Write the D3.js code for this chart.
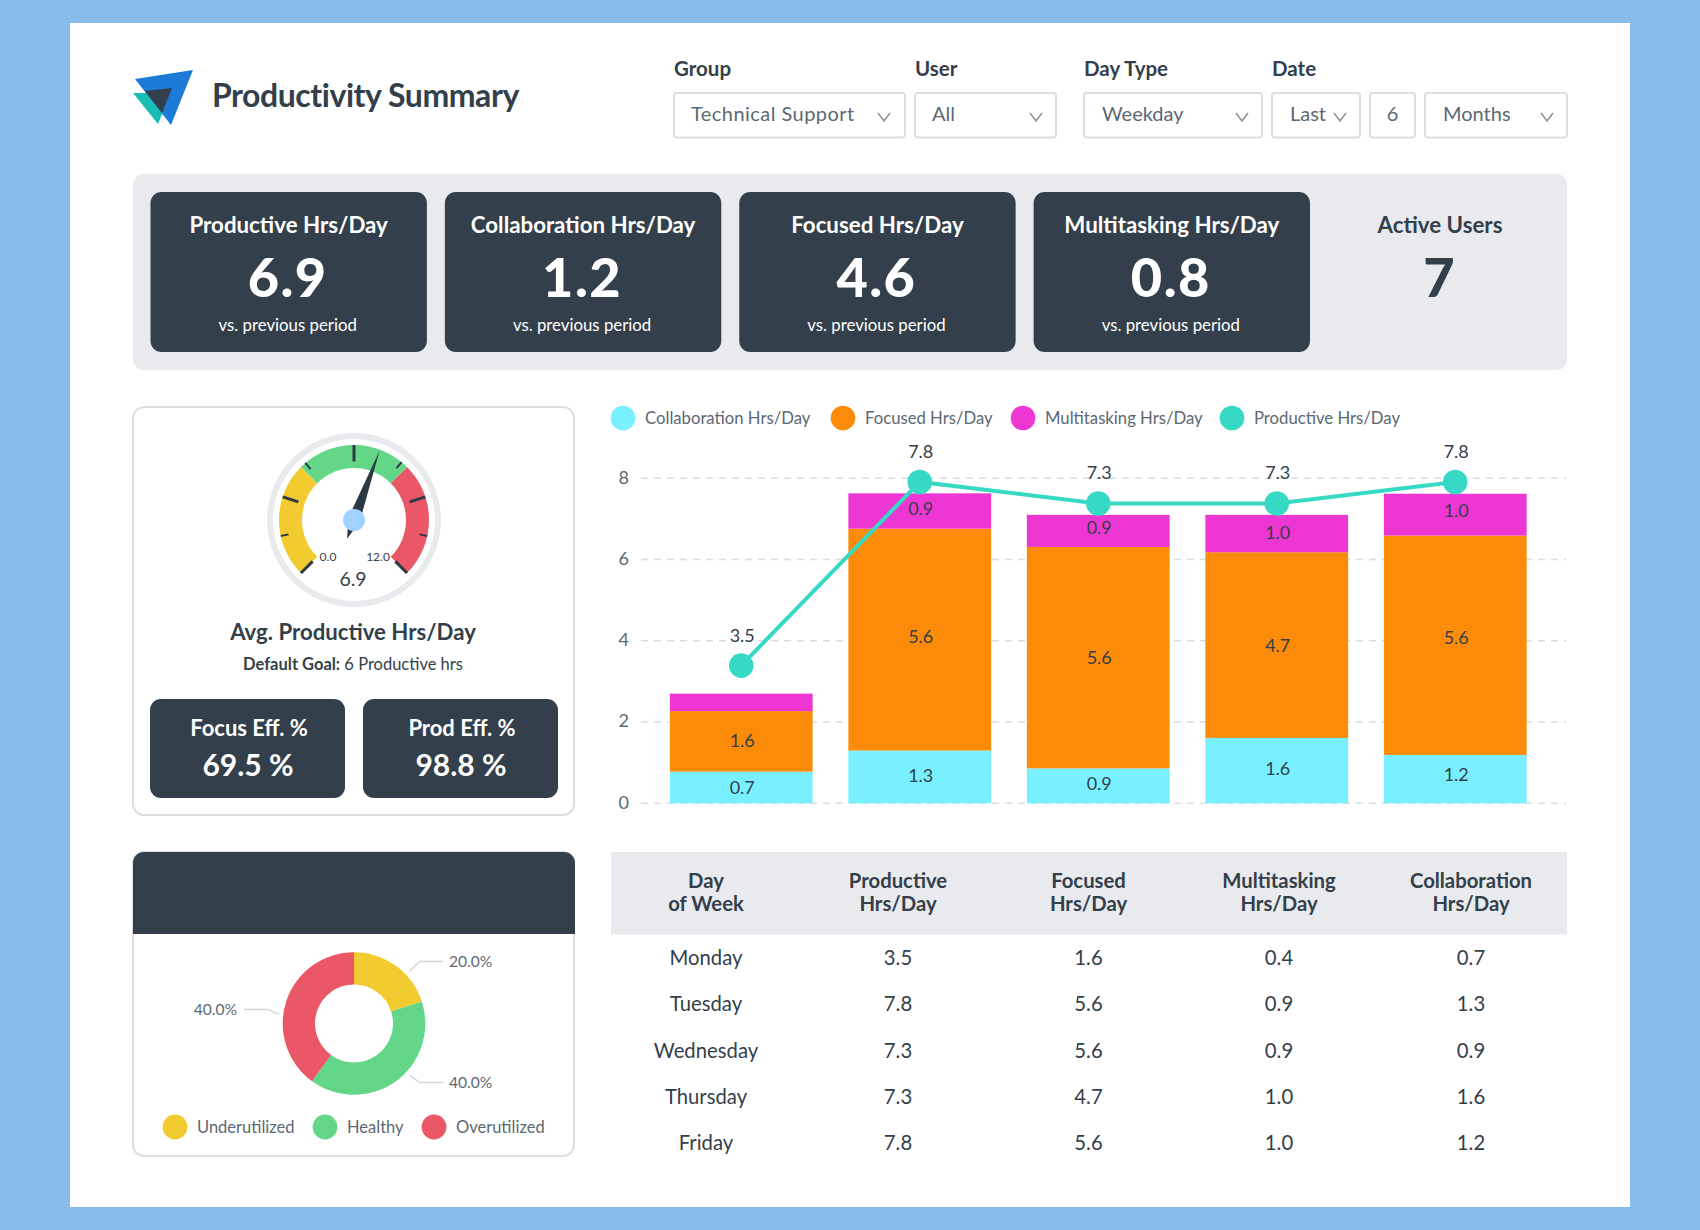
<!DOCTYPE html>
<html>
<head>
<meta charset="utf-8">
<script src="https://cdn.jsdelivr.net/npm/d3@7"></script>
<style>
  html, body { margin: 0; padding: 0; background: #89bbea; }
  svg { display: block; }
  text { font-family: Lato, "Open Sans", sans-serif; }
</style>
</head>
<body>
<div class="viz"></div>
<script>
//////////////////////////
// Data
//////////////////////////

const days = ['Monday', 'Tuesday', 'Wednesday', 'Thursday', 'Friday'];

// printed values (table + labels)
const productiveHrs = [3.5, 7.8, 7.3, 7.3, 7.8];
const focusedHrs = [1.6, 5.6, 5.6, 4.7, 5.6];
const multitaskingHrs = [0.4, 0.9, 0.9, 1.0, 1.0];
const collaborationHrs = [0.7, 1.3, 0.9, 1.6, 1.2];

// drawn heights (they differ a bit from the printed labels)
const collabBar = [0.78, 1.30, 0.86, 1.61, 1.19];
const focusBar = [1.49, 5.46, 5.45, 4.57, 5.40];
const multiBar = [0.43, 0.87, 0.79, 0.92, 1.03];
const productivePoint = [3.39, 7.91, 7.38, 7.38, 7.91];

const yTicks = [0, 2, 4, 6, 8];

const chartLegend = ['Collaboration Hrs/Day', 'Focused Hrs/Day', 'Multitasking Hrs/Day', 'Productive Hrs/Day'];

const kpiTitles = ['Productive Hrs/Day', 'Collaboration Hrs/Day', 'Focused Hrs/Day', 'Multitasking Hrs/Day'];
const kpiValues = ['6.9', '1.2', '4.6', '0.8'];

const effTitles = ['Focus Eff. %', 'Prod Eff. %'];
const effValues = ['69.5 %', '98.8 %'];

const gaugeValue = 6.9;
const gaugeMin = 0;
const gaugeMax = 12;
const gaugeBands = [0, 4, 8, 12];
const gaugeMajorTicks = [0, 2.8, 6, 9.2, 12];
const gaugeMinorTicks = [1.45, 4.2, 7.75, 10.55];

const donutNames = ['Underutilized', 'Healthy', 'Overutilized'];
const donutShares = [20, 40, 40];

const tableHead = [['Day', 'of Week'], ['Productive', 'Hrs/Day'], ['Focused', 'Hrs/Day'], ['Multitasking', 'Hrs/Day'], ['Collaboration', 'Hrs/Day']];

//////////////////////////
// Styles
//////////////////////////

const DARK = '#333f4a';
const PANEL = '#e8eaee';
const BORDER = '#dcdee3';
const MUTED = '#5c6873';
const YELLOW = '#f2cb30';
const GREEN = '#63d687';
const RED = '#ea5767';
const CYAN = '#79f0ff';
const ORANGE = '#fd8b0a';
const MAGENTA = '#ee36d2';
const TEAL = '#36d9c4';

var svg = d3.select('div.viz')
    .append('svg')
    .attr('width', 1700)
    .attr('height', 1230);

svg.append('rect').attr('width', 1700).attr('height', 1230).attr('fill', '#89bbea');
svg.append('rect').attr('x', 70).attr('y', 23).attr('width', 1560).attr('height', 1184).attr('fill', '#fff');

function label(g, x, y, str, size, opts) {
    opts = opts || {};
    return g.append('text')
        .attr('x', x)
        .attr('y', y)
        .attr('font-size', size)
        .attr('font-weight', opts.weight || 400)
        .attr('fill', opts.fill || DARK)
        .attr('text-anchor', opts.anchor || 'start')
        .attr('letter-spacing', opts.spacing || null)
        .text(str);
}

//////////////////////////
// Header: logo, title, filters
//////////////////////////

var logo = svg.append('g').attr('class', 'logo');
logo.append('path').attr('d', 'M133,93 L158,124 L171,93 Z').attr('fill', '#1abdb3');
logo.append('path').attr('d', 'M135,79 L193,70 L171,125 Z').attr('fill', '#1b7bd6');
logo.append('path').attr('d', 'M145,91 L172,88 L162,113 Z').attr('fill', DARK);

label(svg, 212, 107, 'Productivity Summary', 32, { weight: 700, spacing: -0.45 });

const filterLabels = [['Group', 674], ['User', 915], ['Day Type', 1084], ['Date', 1272]];
filterLabels.forEach(function(d) {
    label(svg, d[1], 76, d[0], 20.5, { weight: 700 });
});

const filterBoxes = [
    { x0: 674, x1: 905, text: 'Technical Support', tx: 691, chevron: 884, spacing: 0.45 },
    { x0: 915, x1: 1056, text: 'All', tx: 932, chevron: 1036 },
    { x0: 1084, x1: 1262, text: 'Weekday', tx: 1102, chevron: 1242 },
    { x0: 1272, x1: 1360, text: 'Last', tx: 1290, chevron: 1340 },
    { x0: 1370, x1: 1415, text: '6', tx: 1392.5, anchor: 'middle' },
    { x0: 1425, x1: 1567, text: 'Months', tx: 1443, chevron: 1547 },
];
filterBoxes.forEach(function(d) {
    svg.append('rect')
        .attr('x', d.x0).attr('y', 93)
        .attr('width', d.x1 - d.x0).attr('height', 44.5)
        .attr('rx', 3)
        .attr('fill', '#fff').attr('stroke', BORDER).attr('stroke-width', 2);
    label(svg, d.tx, 121, d.text, 20, { fill: MUTED, anchor: d.anchor, spacing: d.spacing });
    if (d.chevron) {
        svg.append('path')
            .attr('d', 'M' + (d.chevron - 6) + ',113 L' + d.chevron + ',121 L' + (d.chevron + 6) + ',113')
            .attr('fill', 'none').attr('stroke', '#8a929a').attr('stroke-width', 1.5);
    }
});

//////////////////////////
// KPI strip
//////////////////////////

svg.append('rect').attr('x', 133).attr('y', 174).attr('width', 1434).attr('height', 196).attr('rx', 10).attr('fill', PANEL);

var kpiX = d3.scaleBand()
    .domain(kpiTitles)
    .range([150.5, 1310])
    .paddingInner(18 / 294.5);

var kpi = svg.selectAll('g.kpi')
    .data(kpiTitles)
    .enter()
    .append('g')
    .attr('class', 'kpi')
    .attr('transform', (d) => 'translate(' + kpiX(d) + ',192)');

kpi.append('rect').attr('width', kpiX.bandwidth()).attr('height', 160).attr('rx', 11).attr('fill', DARK);
kpi.append('text').attr('x', kpiX.bandwidth() / 2).attr('y', 41).attr('text-anchor', 'middle')
    .attr('font-size', 22.3).attr('font-weight', 700).attr('fill', '#fff').text((d) => d);
kpi.append('text').attr('x', kpiX.bandwidth() / 2 - 1).attr('y', 104.5).attr('text-anchor', 'middle')
    .attr('font-size', 54).attr('font-weight', 900).attr('letter-spacing', 1.5).attr('fill', '#fff').text((d, i) => kpiValues[i]);
kpi.append('text').attr('x', kpiX.bandwidth() / 2 - 1).attr('y', 139).attr('text-anchor', 'middle')
    .attr('font-size', 16.8).attr('fill', '#fff').text('vs. previous period');

label(svg, 1440, 233, 'Active Users', 22.3, { weight: 700, anchor: 'middle' });
label(svg, 1439, 296.5, '7', 54, { weight: 900, anchor: 'middle' });

//////////////////////////
// Gauge card
//////////////////////////

svg.append('rect').attr('x', 133).attr('y', 407).attr('width', 441).attr('height', 408).attr('rx', 11)
    .attr('fill', '#fff').attr('stroke', BORDER).attr('stroke-width', 2);

var gauge = svg.append('g').attr('transform', 'translate(354,520)');

// ticks are spaced unevenly in the picture, the bands are not
var gaugeAngle = d3.scaleLinear().domain([gaugeMin, gaugeMax]).range([-135, 135]);
var toRad = (deg) => deg * Math.PI / 180;

gauge.append('circle').attr('r', 84).attr('fill', 'none').attr('stroke', PANEL).attr('stroke-width', 6);

var gaugeArc = d3.arc().innerRadius(52).outerRadius(75);
[YELLOW, GREEN, RED].forEach(function(color, i) {
    gauge.append('path')
        .attr('d', gaugeArc({
            startAngle: toRad(gaugeAngle(gaugeBands[i])),
            endAngle: toRad(gaugeAngle(gaugeBands[i + 1])),
        }))
        .attr('fill', color);
});

function gaugeTicks(values, inner, width) {
    gauge.selectAll(null)
        .data(values)
        .enter()
        .append('line')
        .attr('y1', -75)
        .attr('y2', -inner)
        .attr('transform', (d) => 'rotate(' + gaugeAngle(d) + ')')
        .attr('stroke', '#2d3a45')
        .attr('stroke-width', width);
}
gaugeTicks(gaugeMajorTicks, 58.5, 3);
gaugeTicks(gaugeMinorTicks, 67, 2);

gauge.append('path')
    .attr('d', 'M0,-74 L6,0 L0,20 L-6,0 Z')
    .attr('transform', 'rotate(' + gaugeAngle(gaugeValue) + ')')
    .attr('fill', '#2d3a45');
gauge.append('circle').attr('r', 11).attr('fill', '#a2d2ff');

label(svg, 328, 561, d3.format('.1f')(gaugeMin), 12, { anchor: 'middle' });
label(svg, 378, 561, d3.format('.1f')(gaugeMax), 12, { anchor: 'middle' });
label(svg, 353, 586, d3.format('.1f')(gaugeValue), 19.5, { anchor: 'middle' });

label(svg, 353, 640, 'Avg. Productive Hrs/Day', 22.2, { weight: 700, anchor: 'middle' });
var goal = label(svg, 353, 670, '', 16.5, { anchor: 'middle' });
goal.append('tspan').attr('font-weight', 700).text('Default Goal:');
goal.append('tspan').text(' 6 Productive hrs');

effTitles.forEach(function(t, i) {
    var x = i === 0 ? 150 : 363;
    svg.append('rect').attr('x', x).attr('y', 699).attr('width', 195).attr('height', 99).attr('rx', 11).attr('fill', DARK);
    label(svg, x + 99, 736, t, 22, { weight: 700, fill: '#fff', anchor: 'middle' });
    label(svg, x + 98, 776, effValues[i], 30, { weight: 700, fill: '#fff', anchor: 'middle' });
});

//////////////////////////
// Stacked bars + line
//////////////////////////

const chartLeft = 641;
const chartRight = 1566;

var xScale = d3.scaleBand()
    .domain(days)
    .range([652, 1544.5])
    .paddingInner(0.2)
    .paddingOuter(0.1);

var yScale = d3.scaleLinear()
    .domain([0, 8])
    .range([803.3, 478.3]);

var yAxis = svg.append('g')
    .attr('class', 'y-axis')
    .attr('transform', 'translate(629,-1)')
    .call(d3.axisLeft(yScale).tickValues(yTicks).tickSize(0).tickPadding(0));
yAxis.select('.domain').remove();
yAxis.selectAll('text').attr('font-size', 18).attr('fill', MUTED).attr('font-family', 'Lato');

svg.append('g').attr('class', 'grid')
    .selectAll('line')
    .data(yTicks)
    .enter()
    .append('line')
    .attr('x1', chartLeft).attr('x2', chartRight)
    .attr('y1', (d) => yScale(d)).attr('y2', (d) => yScale(d))
    .attr('stroke', '#dadde3').attr('stroke-width', 1.5).attr('stroke-dasharray', '7 6');

const stackRows = days.map((d, i) => ({ day: d, collab: collabBar[i], focus: focusBar[i], multi: multiBar[i] }));
const stackKeys = ['collab', 'focus', 'multi'];
const stackColors = { collab: CYAN, focus: ORANGE, multi: MAGENTA };
const stackLabels = { collab: collaborationHrs, focus: focusedHrs, multi: multitaskingHrs };
// labels do not sit exactly mid segment in the picture (px, per day)
const labelNudge = {
    collab: [7, 5, 4, 4, 2],
    focus: [6, 3, 6, 7, -1],
    multi: [0, 4, 3, 5, 2],
};

var layers = svg.selectAll('g.layer')
    .data(d3.stack().keys(stackKeys)(stackRows))
    .enter()
    .append('g')
    .attr('class', 'layer');

layers.selectAll('rect')
    .data((d) => d)
    .enter()
    .append('rect')
    .attr('x', (d) => xScale(d.data.day))
    .attr('width', xScale.bandwidth())
    .attr('y', (d) => yScale(d[1]))
    .attr('height', (d) => yScale(d[0]) - yScale(d[1]))
    .attr('fill', function() { return stackColors[d3.select(this.parentNode).datum().key]; });

// the thin Monday multitasking segment has no label in the picture
layers.each(function(layer) {
    d3.select(this).selectAll('text')
        .data(layer.filter((d) => d[1] - d[0] >= 0.5))
        .enter()
        .append('text')
        .attr('x', (d) => xScale(d.data.day) + xScale.bandwidth() / 2 + 1)
        .attr('y', (d) => yScale((d[0] + d[1]) / 2) + labelNudge[layer.key][days.indexOf(d.data.day)])
        .attr('text-anchor', 'middle')
        .attr('font-size', 18)
        .attr('fill', DARK)
        .text((d) => d3.format('.1f')(stackLabels[layer.key][days.indexOf(d.data.day)]));
});

var xCenter = (d) => xScale(d) + xScale.bandwidth() / 2;

svg.append('path')
    .attr('d', d3.line().x((d, i) => xCenter(days[i])).y((d) => yScale(d))(productivePoint))
    .attr('fill', 'none')
    .attr('stroke', TEAL)
    .attr('stroke-width', 4);

svg.selectAll('circle.point')
    .data(productivePoint)
    .enter()
    .append('circle')
    .attr('class', 'point')
    .attr('cx', (d, i) => xCenter(days[i]))
    .attr('cy', (d) => yScale(d))
    .attr('r', 12.3)
    .attr('fill', TEAL);

svg.selectAll('text.point-label')
    .data(productivePoint)
    .enter()
    .append('text')
    .attr('class', 'point-label')
    .attr('x', (d, i) => xCenter(days[i]) + 1)
    .attr('y', (d) => yScale(d) - 24)
    .attr('text-anchor', 'middle')
    .attr('font-size', 18)
    .attr('fill', DARK)
    .text((d, i) => d3.format('.1f')(productiveHrs[i]));

const chartLegendX = [623, 843, 1023, 1232];
[CYAN, ORANGE, MAGENTA, TEAL].forEach(function(color, i) {
    svg.append('circle').attr('cx', chartLegendX[i]).attr('cy', 418).attr('r', 12.3).attr('fill', color);
    label(svg, chartLegendX[i] + 22, 424, chartLegend[i], 16.7, { fill: MUTED });
});

//////////////////////////
// Donut card
//////////////////////////

svg.append('rect').attr('x', 133).attr('y', 852).attr('width', 441).attr('height', 304).attr('rx', 11)
    .attr('fill', '#fff').attr('stroke', BORDER).attr('stroke-width', 2);
svg.append('path')
    .attr('d', 'M133,934 V863 a11,11 0 0 1 11,-11 H564 a11,11 0 0 1 11,11 V934 Z')
    .attr('fill', DARK);

var donut = svg.append('g').attr('transform', 'translate(354,1023.5)');
var donutColors = [YELLOW, GREEN, RED];
var pieData = d3.pie().sort(null)(donutShares);
var donutArc = d3.arc().innerRadius(39).outerRadius(71.3);

donut.selectAll('path')
    .data(pieData)
    .enter()
    .append('path')
    .attr('d', donutArc)
    .attr('fill', (d, i) => donutColors[i]);

// leader lines: where they leave the ring and the height of their label
const leaderAngle = [46.6, 133, 277];
const leaderY = [-62, 59, -14];
pieData.forEach(function(d, i) {
    var a = toRad(leaderAngle[i]);
    var sx = 76 * Math.sin(a);
    var sy = -76 * Math.cos(a);
    var side = sx > 0 ? 1 : -1;
    var ex = side > 0 ? 66 : -(76 + 10);
    donut.append('path')
        .attr('d', 'M' + sx + ',' + sy + ' L' + ex + ',' + leaderY[i] + ' L' + (side > 0 ? 89 : -110) + ',' + leaderY[i])
        .attr('fill', 'none').attr('stroke', '#d3d6db').attr('stroke-width', 1.5);
    label(donut, side > 0 ? 95 : -117, leaderY[i] + 5.5, d3.format('.1f')(donutShares[i]) + '%', 15.6, {
        fill: MUTED,
        anchor: side > 0 ? 'start' : 'end',
    });
});

const donutLegendX = [175, 325, 434];
donutNames.forEach(function(name, i) {
    svg.append('circle').attr('cx', donutLegendX[i]).attr('cy', 1127).attr('r', 12.4).attr('fill', donutColors[i]);
    label(svg, donutLegendX[i] + 22, 1133, name, 16.5, { fill: MUTED });
});

//////////////////////////
// Table
//////////////////////////

svg.append('rect').attr('x', 611).attr('y', 852).attr('width', 956).attr('height', 82.5).attr('fill', PANEL);

const columnX = [706, 898, 1088.5, 1279, 1471];
const rowY = [964.5, 1011, 1058, 1104, 1150];

tableHead.forEach(function(lines, c) {
    label(svg, columnX[c], 888, lines[0], 20.3, { weight: 700, anchor: 'middle' });
    label(svg, columnX[c], 911, lines[1], 20.3, { weight: 700, anchor: 'middle' });
});

days.forEach(function(day, r) {
    const cells = [day, productiveHrs[r], focusedHrs[r], multitaskingHrs[r], collaborationHrs[r]];
    cells.forEach(function(v, c) {
        label(svg, columnX[c], rowY[r], c === 0 ? v : d3.format('.1f')(v), 20.3, { anchor: 'middle' });
    });
});
</script>
</body>
</html>
